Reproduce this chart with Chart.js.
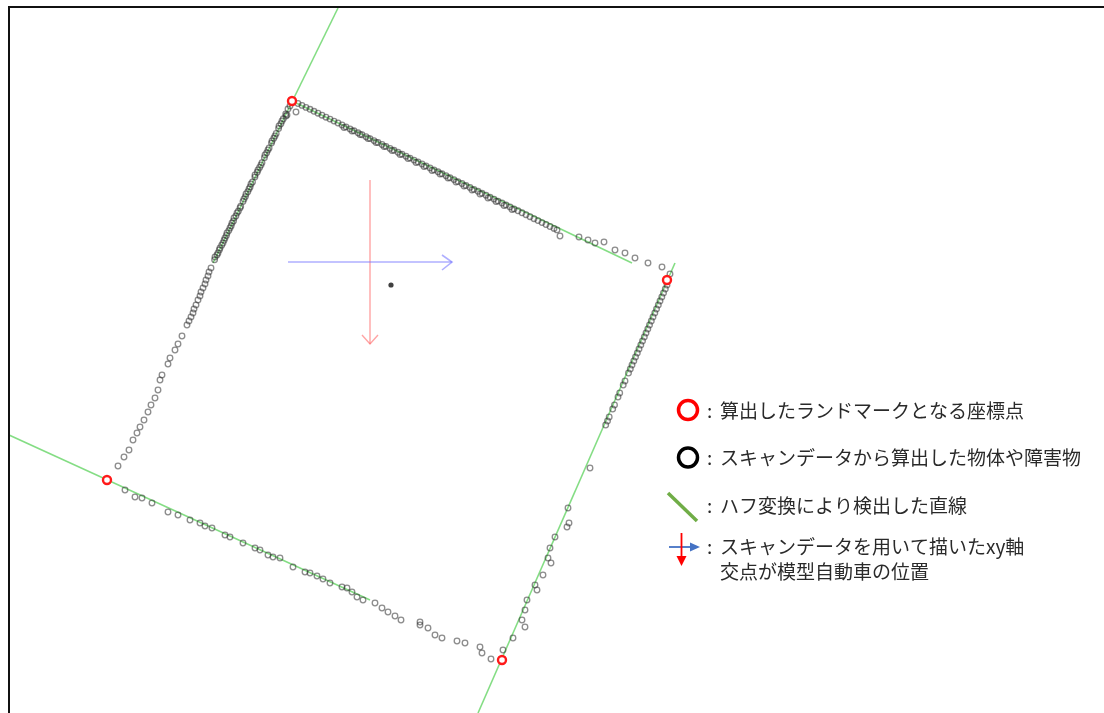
<!DOCTYPE html>
<html lang="ja">
<head>
  <meta charset="UTF-8">
  <title>ハフ変換によるランドマーク検出</title>
  <script src="https://cdn.jsdelivr.net/npm/chart.js"></script>
  <style>
    body { margin: 0; background: #fff; }
    #wrap { position: absolute; left: 0; top: 0; width: 1104px; height: 713px; }
  </style>
</head>
<body>
  <div id="wrap"><canvas id="mapCanvas"></canvas></div>

  <script>
    // スキャンデータ（各辺ごとの点群）
    const leftEdgePts = [
      [296, 112], [287, 115], [288, 109], [285.7, 114], [283.3, 118.8], [280.9, 123.7], [278.6, 128.5],
      [276.2, 133.4], [273.8, 138.3], [271.5, 143.1], [269.1, 148], [266.7, 152.8], [264.4, 157.7],
      [262, 162.6], [259.6, 167.4], [257.2, 172.3], [254.9, 177.1], [252.5, 182], [250.1, 186.9],
      [247.8, 191.7], [245.4, 196.6], [243, 201.4], [240.7, 206.3], [238.3, 211.2], [235.9, 216],
      [233.5, 220.9], [231.2, 225.7], [228.8, 230.6], [226.4, 235.5], [224.1, 240.3], [221.7, 245.2],
      [219.3, 250], [217, 254.9], [214.6, 259.8],
      [290, 106], [286, 116], [282, 121], [279, 126], [275, 136], [272, 141], [268, 150], [265, 155],
      [261, 165], [258, 170], [255, 175], [251, 184], [249, 189], [246, 194], [244, 199], [240, 208],
      [237, 213], [234, 218], [232, 223], [230, 228], [227, 233], [225, 238], [223, 243], [220, 248],
      [218, 253], [215, 257],
      [211, 268], [209, 272], [208, 276], [206, 280], [205, 284], [203, 288], [201, 292], [200, 296],
      [198, 300], [196, 305], [194, 309], [193, 313], [191, 317], [189, 321], [187, 325],
      [182, 336], [178, 344], [175, 350], [170, 358], [168, 364], [162, 375], [160, 380], [158, 390],
      [155, 398], [151, 405], [148, 412], [144, 420], [140, 427], [137, 433], [133, 440], [129, 450],
      [124, 457], [118, 466]
    ];

    const topEdgePts = [
      [298, 103.5], [302, 105.4], [306, 107.4], [310, 109.3], [314, 111.3], [318, 113.2], [322, 115.2],
      [326, 117.2], [330, 119.1], [334, 121.1], [338, 123], [342, 125], [346, 126.9], [350, 128.9],
      [354, 130.8], [358, 132.8], [362, 134.7], [366, 136.7], [370, 138.6], [374, 140.6], [378, 142.5],
      [382, 144.5], [386, 146.4], [390, 148.4], [394, 150.3], [398, 152.3], [402, 154.2], [406, 156.2],
      [410, 158.1], [414, 160.1], [418, 162], [422, 164], [426, 165.9], [430, 167.9], [434, 169.9],
      [438, 171.8], [442, 173.8], [446, 175.7], [450, 177.7], [454, 179.6], [458, 181.6], [462, 183.5],
      [466, 185.5], [470, 187.4], [474, 189.4], [478, 191.3], [482, 193.3], [486, 195.2], [490, 197.2],
      [494, 199.1], [498, 201.1], [502, 203], [506, 205], [510, 206.9], [514, 208.9], [518, 210.8],
      [522, 212.8], [526, 214.7], [530, 216.7], [534, 218.7], [538, 220.6], [542, 222.6], [546, 224.5],
      [550, 226.5], [554, 228.4], [557, 229.9],
      [344, 127.5], [352, 131], [360, 134.5], [368, 138.5], [376, 142.5], [384, 146.5], [392, 150.5],
      [400, 154.5], [408, 158.5], [416, 162.5], [424, 166.5], [432, 170.5], [440, 174], [448, 178],
      [456, 182], [464, 186], [472, 190], [480, 194], [488, 198], [496, 201.5], [504, 205.5], [512, 209.5],
      [560, 236], [579, 237], [588, 240], [595, 243], [604, 242], [615, 250], [625, 253], [635, 258],
      [648, 263], [662, 267]
    ];

    const rightEdgePts = [
      [670, 274], [667, 285], [665.3, 289], [663.5, 293], [661.8, 297], [660, 301], [658.3, 305],
      [656.5, 309], [654.8, 313], [653, 317], [651.3, 321], [649.5, 325], [647.8, 329], [646, 333],
      [644.3, 337], [642.5, 341], [640.8, 345], [639, 349], [637.3, 353], [635.5, 357], [633.8, 361],
      [632, 365], [630.3, 369], [628.5, 373], [625, 381], [623.2, 385], [619.7, 393], [618, 397],
      [614.5, 405], [612.7, 409], [609.2, 417], [607.5, 421], [605.7, 425],
      [590, 468], [568, 508], [569, 523], [567, 527], [555, 537], [550, 548], [548, 558], [551, 563],
      [543, 575], [535, 585], [537, 590], [527, 600], [525, 610], [522, 620], [525, 627], [513, 638],
      [503, 650]
    ];

    const bottomEdgePts = [
      [125, 490], [135, 497], [142, 498], [152, 503], [168, 512], [178, 515], [190, 520], [200, 523],
      [205, 526], [212, 528], [225, 535], [230, 537], [243, 543], [255, 548], [260, 550], [268, 555],
      [273, 557], [280, 558], [293, 567], [305, 572], [310, 573], [317, 576], [323, 579], [330, 583],
      [342, 587], [347, 588], [352, 592], [357, 597], [363, 600], [375, 603], [382, 608], [388, 612],
      [395, 616], [401, 620], [420, 622], [420, 625], [428, 628], [435, 635], [442, 638], [457, 641],
      [465, 643], [480, 647], [482, 653], [491, 659]
    ];

    // 車両付近の単独点
    const centerPts = [[391, 285]];

    // ハフ変換で検出した直線（端点）
    const houghLines = [
      [[338, 8], [213, 263]],
      [[292, 101], [632, 263]],
      [[675, 263], [478, 713]],
      [[9, 435], [370, 600]]
    ];

    // 算出したランドマーク（直線の交点）
    const landmarkPts = [[292, 101], [667, 280], [107, 480], [502, 660]];

    // スキャンデータから描いた xy 軸
    const xAxisShaft = [[288, 262], [452, 262]];
    const xAxisHead = [[442, 255], [452, 262], [442, 270]];
    const yAxisShaft = [[370, 180], [370, 344]];
    const yAxisHead = [[362, 335], [370, 344], [378, 335]];

    const legendTexts = [
      '算出したランドマークとなる座標点',
      'スキャンデータから算出した物体や障害物',
      'ハフ変換により検出した直線',
      'スキャンデータを用いて描いたxy軸',
      '交点が模型自動車の位置'
    ];

    const toXY = pts => pts.map(p => ({ x: p[0], y: p[1] }));

    const lineSet = (pts, color, width, order) => ({
      data: toXY(pts),
      showLine: true,
      borderColor: color,
      borderWidth: width,
      pointRadius: 0,
      order: order
    });

    const scanSet = pts => ({
      data: toXY(pts),
      showLine: false,
      pointRadius: 2.8,
      pointBorderWidth: 1.3,
      pointBorderColor: 'rgba(45,45,45,0.55)',
      pointBackgroundColor: 'rgba(255,255,255,0)',
      order: 1
    });

    const datasets = [];
    houghLines.forEach(l => datasets.push(lineSet(l, 'rgba(110,215,110,0.85)', 1.6, 3)));
    datasets.push(lineSet(xAxisShaft, 'rgba(110,110,255,0.55)', 1.6, 2));
    datasets.push(lineSet(xAxisHead, 'rgba(110,110,255,0.55)', 1.6, 2));
    datasets.push(lineSet(yAxisShaft, 'rgba(255,90,90,0.55)', 1.4, 2));
    datasets.push(lineSet(yAxisHead, 'rgba(255,90,90,0.55)', 1.4, 2));
    [leftEdgePts, topEdgePts, rightEdgePts, bottomEdgePts].forEach(p => datasets.push(scanSet(p)));
    datasets.push({
      data: toXY(centerPts),
      showLine: false,
      pointRadius: 2.6,
      pointBorderWidth: 0,
      pointBackgroundColor: 'rgba(30,30,30,0.85)',
      order: 1
    });
    datasets.push({
      data: toXY(landmarkPts),
      showLine: false,
      pointRadius: 4,
      pointBorderWidth: 2.4,
      pointBorderColor: '#ff1a1a',
      pointBackgroundColor: '#fff',
      order: 0
    });

    // 枠線と凡例
    const framePlugin = {
      id: 'frameAndLegend',
      afterDraw(chart) {
        const ctx = chart.ctx;
        ctx.save();
        ctx.strokeStyle = '#111';
        ctx.lineWidth = 2;
        ctx.beginPath();
        ctx.moveTo(9, 713);
        ctx.lineTo(9, 7);
        ctx.lineTo(1104, 7);
        ctx.stroke();

        // 凡例アイコン
        ctx.lineWidth = 3.5;
        ctx.strokeStyle = '#ff0000';
        ctx.beginPath(); ctx.arc(688, 410, 9.5, 0, Math.PI * 2); ctx.stroke();
        ctx.strokeStyle = '#000';
        ctx.beginPath(); ctx.arc(688, 457.5, 9.5, 0, Math.PI * 2); ctx.stroke();
        ctx.strokeStyle = '#70ad47';
        ctx.lineWidth = 3.5;
        ctx.beginPath(); ctx.moveTo(668, 493); ctx.lineTo(697, 521); ctx.stroke();

        ctx.lineWidth = 1.8;
        ctx.strokeStyle = '#4472c4';
        ctx.beginPath(); ctx.moveTo(669, 547); ctx.lineTo(691, 547); ctx.stroke();
        ctx.fillStyle = '#4472c4';
        ctx.beginPath(); ctx.moveTo(700, 547); ctx.lineTo(690, 542.5); ctx.lineTo(690, 551.5); ctx.closePath(); ctx.fill();
        ctx.strokeStyle = '#ff0000';
        ctx.beginPath(); ctx.moveTo(681.5, 533); ctx.lineTo(681.5, 557); ctx.stroke();
        ctx.fillStyle = '#ff0000';
        ctx.beginPath(); ctx.moveTo(681.5, 566); ctx.lineTo(676.5, 556); ctx.lineTo(686.5, 556); ctx.closePath(); ctx.fill();

        // 凡例テキスト
        ctx.fillStyle = '#2a2a2a';
        ctx.font = '19px "Noto Sans CJK JP"';
        ctx.textBaseline = 'middle';
        const rows = [411, 458, 506, 547, 572];
        rows.forEach((y, i) => {
          if (i < 4) ctx.fillText(':', 707, y);
          ctx.fillText(legendTexts[i], 720, y);
        });
        ctx.restore();
      }
    };

    new Chart(document.getElementById('mapCanvas'), {
      type: 'scatter',
      data: { datasets: datasets },
      options: {
        responsive: true,
        maintainAspectRatio: false,
        animation: false,
        events: [],
        layout: { padding: 0, autoPadding: false },
        plugins: { legend: { display: false }, tooltip: { enabled: false } },
        scales: {
          x: { type: 'linear', min: 0, max: 1104, display: false },
          y: { type: 'linear', min: 0, max: 713, reverse: true, display: false }
        }
      },
      plugins: [framePlugin]
    });
  </script>
</body>
</html>
